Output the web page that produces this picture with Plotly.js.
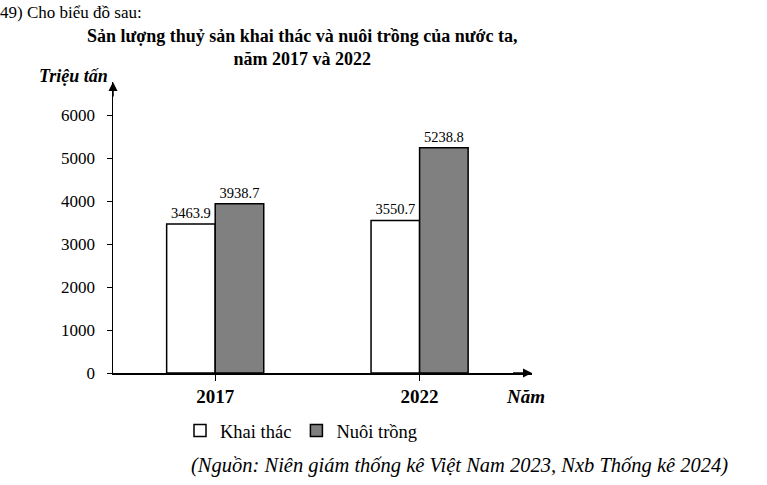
<!DOCTYPE html>
<html><head><meta charset="utf-8">
<script src="https://cdn.plot.ly/plotly-3.0.1.min.js"></script>
<style>html,body{margin:0;padding:0;background:#fff}</style>
</head><body>
<div id="chart" style="width:767px;height:485px"></div>
<script>
const years = ['2017', '2022'];
const yearLabels = ['<b>2017</b>', '<b>2022</b>'];
const khaiThac = [3463.9, 3550.7];
const nuoiTrong = [3938.7, 5238.8];
const seriesNames = ['Khai thác', 'Nuôi trồng'];

const serif = 'Liberation Serif';

// plot area in pixels: x 113..532, y 82..373
const px = v => (v - 113) / 419;
const py = v => (373 - v) / 291;

const traces = [
  {type:'bar', name:seriesNames[0], x:years, y:khaiThac,
   marker:{color:'#ffffff', line:{color:'#000', width:1.5}},
   text:khaiThac.map(v=>v.toFixed(1)), textposition:'outside', cliponaxis:false,
   textfont:{family:serif, size:14.5, color:'#000'}},
  {type:'bar', name:seriesNames[1], x:years, y:nuoiTrong,
   marker:{color:'#808080', line:{color:'#000', width:1.5}},
   text:nuoiTrong.map(v=>v.toFixed(1)), textposition:'outside', cliponaxis:false,
   textfont:{family:serif, size:14.5, color:'#000'}}
];

const layout = {
  width:767, height:485,
  margin:{l:113, r:235, t:82, b:112},
  paper_bgcolor:'#fff', plot_bgcolor:'#fff',
  font:{family:serif, color:'#000'},
  barmode:'group', bargap:0.525, bargroupgap:0,
  showlegend:true,
  legend:{orientation:'h', x:px(180), xanchor:'left', y:py(431), yanchor:'middle',
          font:{family:serif, size:18.5, color:'#000'}, traceorder:'normal'},
  title:{text:'<b>Sản lượng thuỷ sản khai thác và nuôi trồng của nước ta,<br>năm 2017 và 2022</b>',
         xref:'container', yref:'container', x:0.394, xanchor:'center', y:1-42/485, yanchor:'top',
         font:{family:serif, size:18, color:'#000'}},
  xaxis:{type:'category', range:[-0.5, 1.55], showline:true, linecolor:'#000', linewidth:1.5,
         ticks:'outside', ticklen:6, tickcolor:'#000', tickwidth:1,
         tickvals:years, ticktext:yearLabels, tickfont:{family:serif, size:19, color:'#000'},
         showgrid:false, zeroline:false, fixedrange:true},
  yaxis:{range:[0, 6770], showline:true, linecolor:'#000', linewidth:1.5,
         tickvals:[0,1000,2000,3000,4000,5000,6000],
         ticks:'outside', ticklen:5, tickcolor:'#000', tickwidth:1,
         tickfont:{family:serif, size:17, color:'#000'}, ticklabelstandoff:8,
         showgrid:false, zeroline:false, fixedrange:true},
  annotations:[
    {xref:'x', yref:'y', axref:'x', ayref:'y', x:1.55, y:0, ax:1.45, ay:0, text:'',
     showarrow:true, arrowhead:2, arrowsize:1.2, arrowwidth:1.5, arrowcolor:'#000'},
    {xref:'x', yref:'y', axref:'x', ayref:'y', x:-0.5, y:6770, ax:-0.5, ay:6400, text:'',
     showarrow:true, arrowhead:2, arrowsize:1.2, arrowwidth:1.5, arrowcolor:'#000'},
    {xref:'paper', yref:'paper', x:px(110), y:py(76), xanchor:'right', yanchor:'middle',
     text:'<b><i>Triệu tấn</i></b>', showarrow:false, font:{family:serif, size:18, color:'#000'}},
    {xref:'paper', yref:'paper', x:px(504), y:py(396), xanchor:'left', yanchor:'middle',
     text:'<b><i>Năm</i></b>', showarrow:false, font:{family:serif, size:19, color:'#000'}},
    {xref:'paper', yref:'paper', x:px(189), y:py(465), xanchor:'left', yanchor:'middle',
     text:'<i>(Nguồn: Niên giám thống kê Việt Nam 2023, Nxb Thống kê 2024)</i>', showarrow:false,
     font:{family:serif, size:20.5, color:'#000'}},
    {xref:'paper', yref:'paper', x:px(-2), y:py(24), xanchor:'left', yanchor:'bottom',
     text:'49) Cho biểu đồ sau:', showarrow:false, font:{family:serif, size:17, color:'#000'}}
  ]
};

Plotly.newPlot('chart', traces, layout, {displayModeBar:false, staticPlot:true});
</script>
</body></html>
